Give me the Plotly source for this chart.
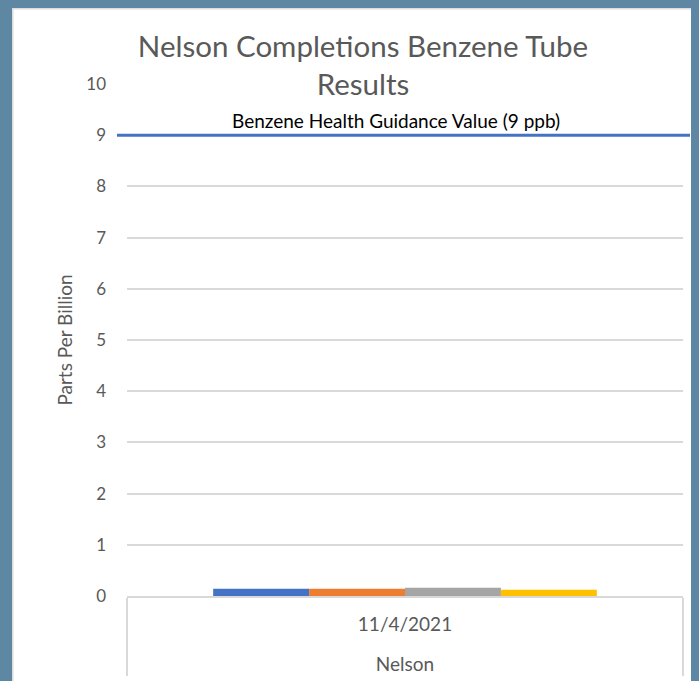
import plotly.graph_objects as go

# ---- data ----
outer_category = ["Nelson"]
inner_category = ["11/4/2021"]
series_names = ["Tube 1", "Tube 2", "Tube 3", "Tube 4"]
series_values = [0.14, 0.14, 0.16, 0.12]
series_colors = ["#4472C4", "#ED7D31", "#A5A5A5", "#FFC000"]
guidance_value = 9
guidance_label = "Benzene Health Guidance Value (9 ppb)"
y_ticks = [0, 1, 2, 3, 4, 5, 6, 7, 8, 9, 10]
chart_title = "Nelson Completions Benzene Tube<br>Results"
y_title = "Parts Per Billion"

# the page body keeps its default 8px margin (coloured as the window frame)
OFF = 8
W, H = 699 - OFF, 681 - OFF
ML, MR, MT, MB = 127 - OFF, 16, 84 - OFF, 85
PW = W - ML - MR
PH = H - MT - MB
FRAME = "#5E87A4"
EDGE = "#DCDCDC"

FONT = "Lato, 'Open Sans', sans-serif"

fig = go.Figure()
for name, val, col in zip(series_names, series_values, series_colors):
    fig.add_trace(go.Bar(
        x=[["<br>" + c for c in outer_category], inner_category],
        y=[val],
        name=name,
        marker=dict(color=col, line=dict(width=0)),
        showlegend=False,
    ))

shapes = [
    # remaining part of the left frame strip
    dict(type="rect", xref="paper", yref="paper",
         x0=-ML / PW, x1=(-ML + 4) / PW, y0=-MB / PH, y1=1 + MT / PH,
         fillcolor=FRAME, line=dict(width=0), layer="below"),
    # thin light edge of the chart area
    dict(type="line", xref="paper", yref="paper",
         x0=(-ML + 4) / PW, x1=1 + MR / PW,
         y0=1 + (MT - 0.75) / PH, y1=1 + (MT - 0.75) / PH,
         line=dict(color=EDGE, width=1.5)),
    dict(type="line", xref="paper", yref="paper",
         x0=(-ML + 4.75) / PW, x1=(-ML + 4.75) / PW,
         y0=-MB / PH, y1=1 + MT / PH,
         line=dict(color=EDGE, width=1.5)),
    # guidance line
    dict(type="line", xref="paper", yref="y",
         x0=-10 / PW, x1=1 + 7 / PW, y0=guidance_value, y1=guidance_value,
         line=dict(color="#4472C4", width=3)),
]

annotations = [
    dict(text=guidance_label, xref="paper", yref="y",
         x=(396 - OFF - ML) / PW, y=guidance_value, yshift=15,
         showarrow=False, xanchor="center", yanchor="middle",
         font=dict(family=FONT, size=19, color="#000000")),
]

fig.update_layout(
    width=W, height=H,
    autosize=False,
    margin=dict(l=ML, r=MR, t=MT, b=MB, autoexpand=False),
    paper_bgcolor="white",
    plot_bgcolor="white",
    barmode="group",
    bargap=0.31,
    bargroupgap=0,
    title=dict(text=chart_title, x=(363 - OFF) / W, xanchor="center",
               y=1 - (57 - OFF) / H, yanchor="middle", automargin=False,
               font=dict(family=FONT, size=29.5, color="#595959")),
    font=dict(family=FONT, color="#595959"),
    shapes=shapes,
    annotations=annotations,
    xaxis=dict(
        type="multicategory",
        automargin=False,
        showline=True, linecolor="#D9D9D9", linewidth=2,
        showdividers=True, dividercolor="#D9D9D9", dividerwidth=2,
        tickfont=dict(family=FONT, size=19, color="#595959"),
        ticklabelstandoff=10,
        showgrid=False, ticks="",
    ),
    yaxis=dict(
        range=[0, 10],
        automargin=False,
        tickvals=y_ticks,
        showgrid=True, gridcolor="#D9D9D9", gridwidth=2,
        zeroline=False, showline=False, ticks="",
        ticklabelstandoff=20,
        tickfont=dict(family=FONT, size=17, color="#595959"),
        title=dict(text=y_title, standoff=8,
                   font=dict(family=FONT, size=19, color="#595959")),
    ),
)

fig.write_html("out.html", config={"displayModeBar": False},
               post_script="document.body.style.background='%s';" % FRAME)
